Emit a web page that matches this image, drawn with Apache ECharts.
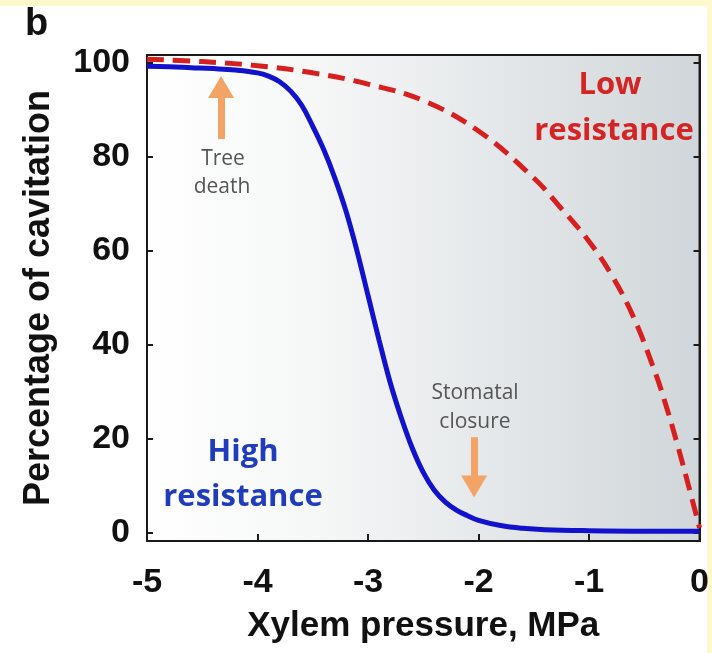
<!DOCTYPE html>
<html>
<head>
<meta charset="utf-8">
<script src="https://cdn.jsdelivr.net/npm/echarts@6/dist/echarts.min.js"></script>
<style>
  html, body { margin: 0; padding: 0; }
  #wrap { position: relative; width: 712px; height: 653px; background: #fdf9cc; }
  #paper { position: absolute; left: 0; top: 6px; width: 707px; height: 647px; background: #fff; }
  #chart { position: absolute; left: 0; top: 0; width: 712px; height: 653px; }
</style>
</head>
<body>
<div id="wrap">
  <div id="paper"></div>
  <div id="chart"></div>
</div>
<script>
// 高阻力曲线 (High resistance)
var highX = [-5, -4.8, -4.6, -4.4, -4.2, -4.0, -3.9, -3.8, -3.7, -3.6, -3.5, -3.4, -3.3, -3.2, -3.1, -3.0,
             -2.9, -2.8, -2.7, -2.6, -2.5, -2.4, -2.3, -2.2, -2.1, -2.0, -1.8, -1.6, -1.4, -1.0, -0.5, 0]
var highY = [99.3, 99.2, 99.0, 98.8, 98.5, 97.9, 97.2, 96, 94, 91, 86.5, 81.5, 75.5, 68.5, 60, 50.5,
             41, 32, 24.5, 18, 12.8, 9, 6.5, 4.8, 3.6, 2.6, 1.5, 0.9, 0.6, 0.4, 0.3, 0.3]

// 低阻力曲线 (Low resistance)
var lowX = [-5, -4.5, -4.0, -3.5, -3.0, -2.5, -2.0, -1.5, -1.25, -1.0, -0.8, -0.6, -0.4, -0.3, -0.2, -0.1, 0]
var lowY = [100.8, 100.3, 99.4, 97.9, 95.5, 92.0, 85.5, 75.5, 69, 62, 55, 46, 34, 26.8, 18.7, 10, 1]

var yTicks = [0, 20, 40, 60, 80, 100]

// 注释箭头 [x, y起点, y终点]
var treeArrow = [-4.33, 83.8, 94.9]
var stomaArrow = [-2.04, 20.3, 9.8]

function pairs(xs, ys) {
    var out = []
    for (var i = 0; i < xs.length; i++) out.push([xs[i], ys[i]])
    return out
}

var myChart = echarts.init(document.getElementById('chart'))

var axisFont = '"Liberation Sans", Arial, sans-serif'
var noteFont = '"Open Sans", sans-serif'

var option = {
    animation: false,
    grid: {
        left: 147,
        top: 55,
        right: 8,
        bottom: 112,
        show: true,
        borderColor: '#1a1a1a',
        borderWidth: 2,
        backgroundColor: {
            type: 'linear', x: 0, y: 0, x2: 1, y2: 0,
            colorStops: [
                {offset: 0, color: '#ffffff'},
                {offset: 0.3, color: '#f6f7f7'},
                {offset: 0.6, color: '#e6e9eb'},
                {offset: 1, color: '#d0d6d9'}
            ]
        }
    },
    xAxis: {
        type: 'value',
        min: -5,
        max: 0,
        interval: 1,
        name: 'Xylem pressure, MPa',
        nameLocation: 'middle',
        nameGap: 68,
        nameTextStyle: {fontFamily: axisFont, fontWeight: 'bold', fontSize: 35, color: '#111'},
        axisLine: {show: true, onZero: false, lineStyle: {color: '#1a1a1a', width: 2}},
        axisTick: {show: true, inside: true, length: 7, lineStyle: {color: '#1a1a1a', width: 2}},
        axisLabel: {margin: 25, fontFamily: axisFont, fontWeight: 'bold', fontSize: 34, color: '#111'},
        splitLine: {show: false}
    },
    yAxis: [
        {
            type: 'value',
            min: -1.8,
            max: 101.7,
            name: 'Percentage of cavitation',
            nameLocation: 'middle',
            nameGap: 90,
            nameTextStyle: {fontFamily: axisFont, fontWeight: 'bold', fontSize: 36, color: '#111'},
            axisLine: {show: true, onZero: false, lineStyle: {color: '#1a1a1a', width: 2}},
            axisTick: {show: true, inside: true, length: 6, customValues: yTicks, lineStyle: {color: '#1a1a1a', width: 2}},
            axisLabel: {margin: 17, customValues: yTicks, fontFamily: axisFont, fontWeight: 'bold', fontSize: 34, color: '#111'},
            splitLine: {show: false}
        },
        {
            type: 'value',
            position: 'right',
            min: -1.8,
            max: 101.7,
            axisLine: {show: true, onZero: false, lineStyle: {color: '#1a1a1a', width: 2}},
            axisTick: {show: true, inside: true, length: 6, customValues: yTicks, lineStyle: {color: '#1a1a1a', width: 2}},
            axisLabel: {show: false},
            splitLine: {show: false}
        }
    ],
    series: [
        {
            name: 'High resistance',
            type: 'line',
            smooth: 0.4,
            showSymbol: false,
            data: pairs(highX, highY),
            lineStyle: {color: '#1212cc', width: 5},
            markLine: {
                silent: true,
                symbol: ['none', 'triangle'],
                symbolSize: [26, 22],
                label: {show: false},
                lineStyle: {color: '#f2a365', width: 7, type: 'solid'},
                data: [
                    [{coord: [treeArrow[0], treeArrow[1]]}, {coord: [treeArrow[0], treeArrow[2]]}],
                    [{coord: [stomaArrow[0], stomaArrow[1]]}, {coord: [stomaArrow[0], stomaArrow[2]]}]
                ]
            }
        },
        {
            name: 'Low resistance',
            type: 'line',
            smooth: 0.4,
            showSymbol: false,
            data: pairs(lowX, lowY),
            lineStyle: {color: '#d61f1f', width: 5, type: [17, 9]}
        }
    ],
    graphic: [
        {type: 'text', x: 25, y: 6, style: {text: 'b', font: 'bold 38px ' + axisFont, fill: '#111'}},
        {type: 'text', x: 610, y: 85, style: {text: 'Low', font: 'bold 31px ' + noteFont, fill: '#d42424', textAlign: 'center', textVerticalAlign: 'middle', align: 'center', verticalAlign: 'middle'}},
        {type: 'text', x: 614, y: 131, style: {text: 'resistance', font: 'bold 31px ' + noteFont, fill: '#d42424', textAlign: 'center', textVerticalAlign: 'middle', align: 'center', verticalAlign: 'middle'}},
        {type: 'text', x: 243, y: 452, style: {text: 'High', font: 'bold 31px ' + noteFont, fill: '#1f3cbc', textAlign: 'center', textVerticalAlign: 'middle', align: 'center', verticalAlign: 'middle'}},
        {type: 'text', x: 243, y: 497, style: {text: 'resistance', font: 'bold 31px ' + noteFont, fill: '#1f3cbc', textAlign: 'center', textVerticalAlign: 'middle', align: 'center', verticalAlign: 'middle'}},
        {type: 'text', x: 223, y: 159, style: {text: 'Tree', font: '21px ' + noteFont, fill: '#555', textAlign: 'center', textVerticalAlign: 'middle', align: 'center', verticalAlign: 'middle'}},
        {type: 'text', x: 222, y: 187, style: {text: 'death', font: '21px ' + noteFont, fill: '#555', textAlign: 'center', textVerticalAlign: 'middle', align: 'center', verticalAlign: 'middle'}},
        {type: 'text', x: 475, y: 393, style: {text: 'Stomatal', font: '21px ' + noteFont, fill: '#555', textAlign: 'center', textVerticalAlign: 'middle', align: 'center', verticalAlign: 'middle'}},
        {type: 'text', x: 475, y: 422, style: {text: 'closure', font: '21px ' + noteFont, fill: '#555', textAlign: 'center', textVerticalAlign: 'middle', align: 'center', verticalAlign: 'middle'}}
    ]
}

myChart.setOption(option)
</script>
</body>
</html>
